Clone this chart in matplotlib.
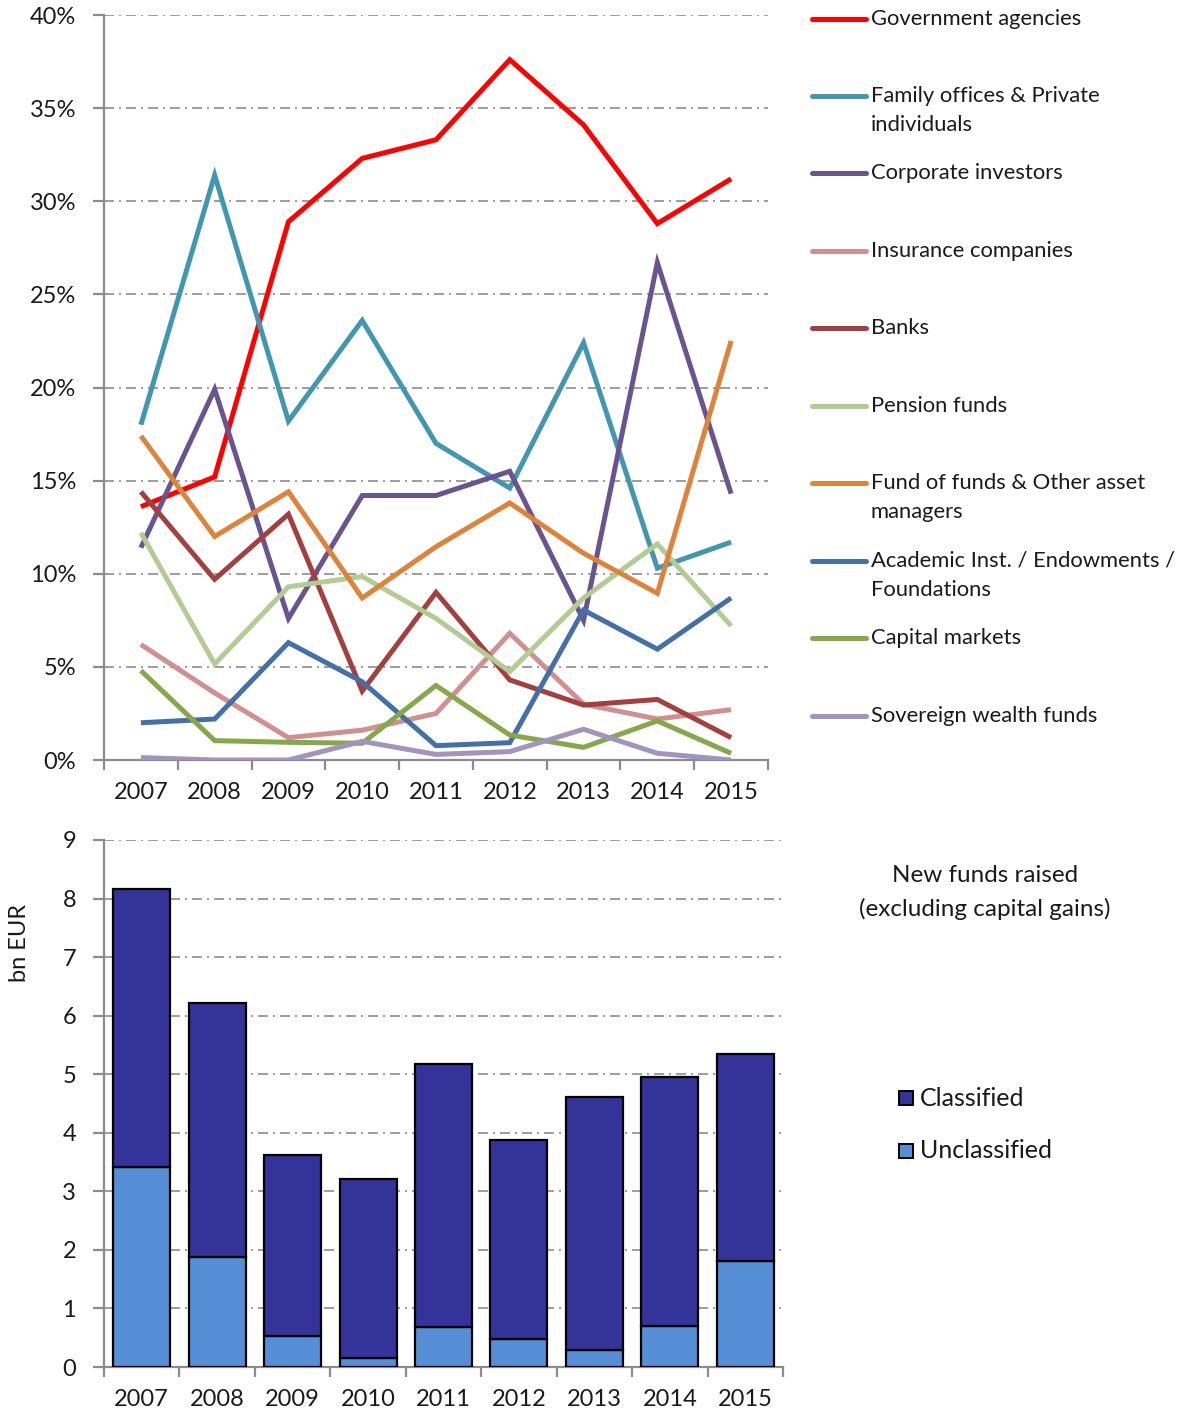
import matplotlib
matplotlib.use('Agg')
import matplotlib.pyplot as plt
from matplotlib.lines import Line2D
from matplotlib.patches import Rectangle
import numpy as np

plt.rcParams['font.family'] = ['Lato', 'DejaVu Sans']

#####################################
# data
years = ['2007', '2008', '2009', '2010', '2011', '2012', '2013', '2014', '2015']

investor_types = ['Government agencies',
                  'Family offices & Private\nindividuals',
                  'Corporate investors',
                  'Insurance companies',
                  'Banks',
                  'Pension funds',
                  'Fund of funds & Other asset\nmanagers',
                  'Academic Inst. / Endowments /\nFoundations',
                  'Capital markets',
                  'Sovereign wealth funds']

gov_agencies   = [13.6, 15.2, 28.9, 32.3, 33.3, 37.6, 34.1, 28.8, 31.2]
family_offices = [18.0, 31.4, 18.2, 23.6, 17.0, 14.6, 22.4, 10.3, 11.7]
corporate      = [11.4, 19.9, 7.6, 14.2, 14.2, 15.5, 7.5, 26.7, 14.3]
insurance      = [6.2, 3.6, 1.2, 1.6, 2.5, 6.8, 3.0, 2.2, 2.7]
banks          = [14.4, 9.7, 13.2, 3.7, 9.0, 4.3, 2.95, 3.25, 1.2]
pension        = [12.2, 5.15, 9.3, 9.85, 7.6, 4.75, 8.7, 11.6, 7.2]
fund_of_funds  = [17.4, 12.0, 14.4, 8.7, 11.45, 13.8, 11.1, 8.95, 22.5]
academic       = [2.0, 2.2, 6.3, 4.2, 0.77, 0.93, 8.05, 5.95, 8.7]
capital_mkts   = [4.8, 1.04, 0.95, 0.9, 4.0, 1.34, 0.68, 2.1, 0.36]
sovereign      = [0.13, 0.0, 0.0, 1.0, 0.3, 0.45, 1.65, 0.36, 0.0]

series = [gov_agencies, family_offices, corporate, insurance, banks,
          pension, fund_of_funds, academic, capital_mkts, sovereign]

total_raised = [8.16, 6.22, 3.62, 3.21, 5.17, 3.88, 4.61, 4.95, 5.34]
unclassified = [3.42, 1.88, 0.53, 0.15, 0.68, 0.48, 0.29, 0.70, 1.81]
classified = [t - u for t, u in zip(total_raised, unclassified)]

#####################################
# styles
colors = ['#FF0000', '#4197B0', '#6A5490', '#D09090', '#A3403F',
          '#B3CC93', '#DD843A', '#4470A8', '#86A84A', '#A294BE']
grid_kw = dict(color='#8C8C8C', lw=1.2, linestyle=(0, (6, 3, 1.2, 3)))
spine_c = '#8C8C8C'
txt_c = '#1A1A1A'
fs = 17

W, H = 1184, 1416
fig = plt.figure(figsize=(W/100, H/100), dpi=100)

def fy(py):
    return 1 - py/H

ax1 = fig.add_axes([104/W, fy(760), (768-104)/W, (760-15)/H])
ax2 = fig.add_axes([104/W, fy(1367), (783-104)/W, (1367-840)/H])

x = np.arange(len(years))

# top line chart
for vals, c in zip(series, colors):
    ax1.plot(x, vals, color=c, lw=3.6, solid_capstyle='butt', solid_joinstyle='miter', zorder=3)

ax1.set_xlim(-0.5, 8.5)
ax1.set_ylim(0, 40)
ax1.set_yticks(np.arange(0, 41, 5))
ax1.set_yticklabels(['%d%%' % v for v in range(0, 41, 5)])
for v in range(5, 41, 5):
    ax1.axhline(v, zorder=1, **grid_kw)

# bottom bar chart
ax2.bar(x, unclassified, width=0.755, color='#558ED5', edgecolor='black', lw=1.6, zorder=3)
ax2.bar(x, classified, bottom=unclassified, width=0.755, color='#333399',
        edgecolor='black', lw=1.6, zorder=3)
ax2.set_xlim(-0.5, 8.5)
ax2.set_ylim(0, 9)
ax2.set_yticks(range(0, 10))
for v in range(1, 10):
    ax2.axhline(v, zorder=1, **grid_kw)
fig.text(19/W, fy(943), 'bn EUR', fontsize=fs, color=txt_c, rotation=90,
         ha='center', va='center')

for ax in (ax1, ax2):
    for s in ('top', 'right'):
        ax.spines[s].set_visible(False)
    for s in ('left', 'bottom'):
        ax.spines[s].set_color(spine_c)
        ax.spines[s].set_linewidth(1.6)
    ax.set_xticks(x)
    ax.set_xticklabels(years)
    ax.set_xticks(np.arange(-0.5, 9, 1), minor=True)
    ax.tick_params(axis='x', which='major', length=0, pad=16, labelsize=fs, labelcolor=txt_c)
    ax.tick_params(axis='x', which='minor', length=7, width=1.6, color=spine_c)
    ax.tick_params(axis='y', length=8, width=1.6, color=spine_c, pad=12,
                   labelsize=fs, labelcolor=txt_c)

# top legend, drawn by hand on the figure
leg_y = [19, 96, 173, 251, 328, 406, 483, 561, 638, 716]
for name, c, py in zip(investor_types, colors, leg_y):
    fig.add_artist(Line2D([812/W, 866/W], [fy(py), fy(py)], color=c, lw=3.6,
                          solid_capstyle='round', transform=fig.transFigure))
    for k, line in enumerate(name.split('\n')):
        fig.text(871/W, fy(py + 29*k), line, fontsize=15.8, color=txt_c,
                 va='center', ha='left')

# bottom legend + title
fig.text(985/W, fy(876), 'New funds raised', fontsize=17.5,
         color=txt_c, ha='center', va='center')
fig.text(985/W, fy(909), '(excluding capital gains)', fontsize=17.5,
         color=txt_c, ha='center', va='center')
for lab, c, py in [('Classified', '#333399', 1098), ('Unclassified', '#558ED5', 1151)]:
    fig.add_artist(Rectangle((899/W, fy(py + 7)), 14/W, 14/H, facecolor=c,
                             edgecolor='black', lw=1.4, transform=fig.transFigure))
    fig.text(920/W, fy(py), lab, fontsize=18, color=txt_c, va='center', ha='left')

fig.savefig('out.png', dpi=100)
